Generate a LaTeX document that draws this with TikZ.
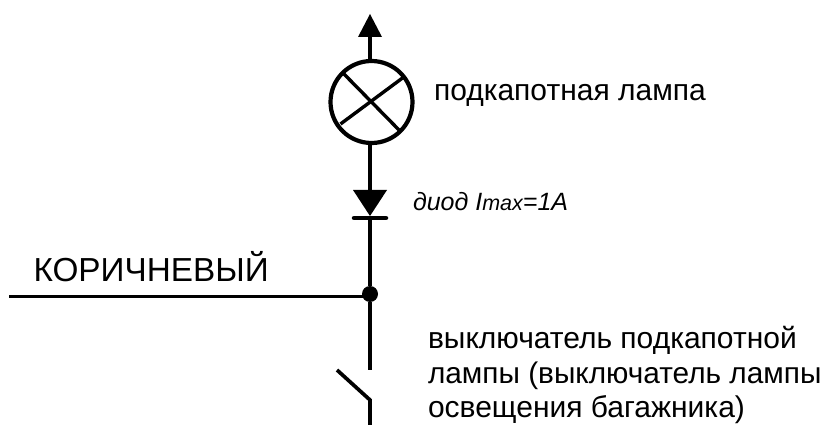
\documentclass[tikz,border=0pt]{standalone}
\usepackage{fontspec}
\setmainfont{Liberation Sans}
\begin{document}
\begin{tikzpicture}[x=1pt,y=-1pt,
  wire/.style={line width=3.7pt,black},
  cross wire/.style={line width=3.4pt,black},
  lbl/.style={inner sep=0pt,outer sep=0pt,anchor=base west,text=black},
  lamp/.style={circle,draw=black,line width=4.2pt,minimum size=82pt,inner sep=0pt},
  junction/.style={circle,fill=black,minimum size=16pt,inner sep=0pt}]
\useasboundingbox (0,0) rectangle (828,425);
\fill[white] (0,0) rectangle (828,425);
\node[lamp] (L) at (371.5,102) {};
\node[junction] (J) at (370,294) {};
\coordinate (top) at (370,30);
\coordinate (dtop) at (370,192);
\coordinate (dapex) at (370,216);
\coordinate (left) at (9,296.5);
\coordinate (jl) at (370,296.5);
\coordinate (swa) at (370,369.5);
\coordinate (swb) at (337,370);
\coordinate (swc) at (370,400);
\coordinate (bot) at (370,425);
\draw[wire] (top |- L.north) -- (top);
\fill[black] (370,14) -- (382,37) -- (358,37) -- cycle;
\draw[cross wire] (L.center) ++(-28.5,-29) -- ++(57,58);
\draw[cross wire] (L.center) ++(31,-24) -- ++(-62,46);
\draw[wire] (dtop |- L.south) -- (dtop);
\fill[black] (353,190) -- (387,190) -- (370,216) -- cycle;
\draw[line width=4.5pt,line cap=round,black] (354,218) -- (386,218);
\draw[wire] (dapex) -- (J);
\draw[wire] (left) -- (jl);
\draw[wire] (J) -- (swa);
\draw[wire,line join=miter] (swb) -- (swc) -- (bot);
\node[lbl,font=\fontsize{30}{34}\selectfont] (t1) at (434,101) {подкапотная лампа};
\node[lbl,font=\fontsize{25}{28}\selectfont\itshape] (t2) at (413,211) {диод {\fontsize{25}{28}\selectfont I}{\fontsize{21.5}{24}\selectfont max}=1A};
\node[lbl,font=\fontsize{33.3}{38}\selectfont] (t3) at (33.5,281) {КОРИЧНЕВЫЙ};
\node[lbl,font=\fontsize{30}{34}\selectfont] (t4) at (428,348.5) {выключатель подкапотной};
\node[lbl,font=\fontsize{29.8}{34}\selectfont] (t5) at (428,383) {лампы (выключатель лампы};
\node[lbl,font=\fontsize{30}{34}\selectfont] (t6) at (428,417) {освещения багажника)};
\end{tikzpicture}
\end{document}
